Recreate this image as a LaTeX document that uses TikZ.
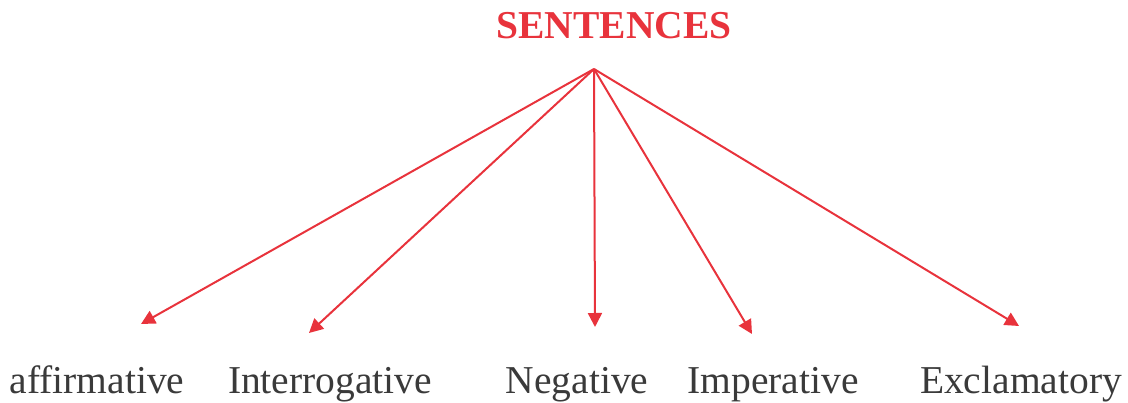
\documentclass[tikz,border=0pt]{standalone}
\usepackage{fontspec}
\setmainfont{Liberation Serif}
\usetikzlibrary{arrows.meta}
\definecolor{sred}{HTML}{E8333C}
\definecolor{sgrey}{HTML}{3A3A3A}
\begin{document}
\begin{tikzpicture}[x=1pt,y=-1pt,
  lbl/.style={anchor=base,inner sep=0pt,text=sgrey,font=\fontsize{39.5}{41}\selectfont},
  ttl/.style={anchor=base,inner sep=0pt,text=sred,font=\bfseries\fontsize{39.5}{41}\selectfont},
  conn/.style={draw=sred,line width=2pt,-{Triangle[length=14pt,width=14pt]}}]
\useasboundingbox (0,0) rectangle (1128,403);
\node[ttl] (title) at (614,39) {SENTENCES};
\coordinate (hub) at (594,69);
\coordinate (t1) at (141,324);
\coordinate (t2) at (309,333);
\coordinate (t3) at (595,327);
\coordinate (t4) at (752,334);
\coordinate (t5) at (1019,326);
\node[lbl] (aff) at (97,394) {affirmative};
\node[lbl] (int) at (330,394) {Interrogative};
\node[lbl] (neg) at (577,394) {Negative};
\node[lbl] (imp) at (773,394) {Imperative};
\node[lbl] (exc) at (1021,394) {Exclamatory};
\draw[conn] (hub) -- (t1);
\draw[conn] (hub) -- (t2);
\draw[conn] (hub) -- (t3);
\draw[conn] (hub) -- (t4);
\draw[conn] (hub) -- (t5);
\end{tikzpicture}
\end{document}
